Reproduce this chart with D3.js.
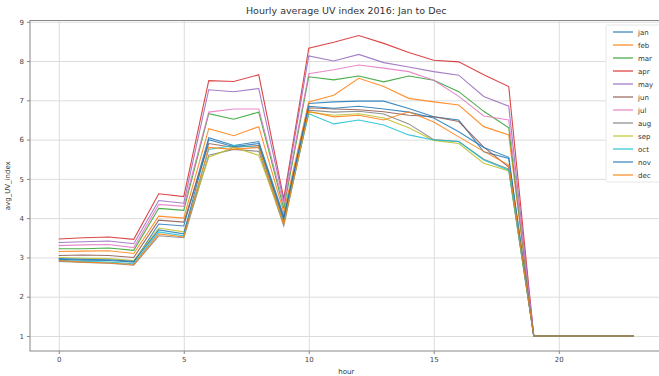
<!DOCTYPE html>
<html>
<head>
<meta charset="utf-8">
<script src="https://d3js.org/d3.v7.min.js"></script>
<style>
  body { margin: 0; background: #fff; }
  text { font-family: "DejaVu Sans", sans-serif; fill: #333; }
</style>
</head>
<body>
<div id="chart"></div>
<script>
// hours 0..23
const hours = d3.range(0, 24);
const months = ['jan', 'feb', 'mar', 'apr', 'may', 'jun', 'jul', 'aug', 'sep', 'oct', 'nov', 'dec'];
const xTicks = [0, 5, 10, 15, 20];
const yTicks = [1, 2, 3, 4, 5, 6, 7, 8, 9];

// avg UV index per hour
const jan = [2.95, 2.93, 2.92, 2.88, 3.85, 3.80, 6.05, 5.85, 5.95, 4.05, 6.92, 6.96, 6.98, 6.98, 6.79, 6.58, 6.50, 5.69, 5.52, 1, 1, 1, 1, 1];
const feb = [3.15, 3.16, 3.17, 3.10, 4.05, 4.00, 6.28, 6.10, 6.33, 4.15, 6.96, 7.13, 7.56, 7.35, 7.05, 6.96, 6.88, 6.33, 6.12, 1, 1, 1, 1, 1];
const mar = [3.22, 3.22, 3.24, 3.18, 4.25, 4.20, 6.66, 6.52, 6.70, 4.25, 7.60, 7.52, 7.62, 7.47, 7.62, 7.51, 7.22, 6.72, 6.30, 1, 1, 1, 1, 1];
const apr = [3.47, 3.50, 3.52, 3.46, 4.62, 4.55, 7.50, 7.48, 7.65, 4.50, 8.33, 8.48, 8.65, 8.45, 8.22, 8.02, 7.98, 7.65, 7.35, 1, 1, 1, 1, 1];
const may = [3.38, 3.40, 3.42, 3.35, 4.45, 4.38, 7.27, 7.22, 7.30, 4.42, 8.13, 8.00, 8.17, 7.96, 7.85, 7.73, 7.64, 7.10, 6.85, 1, 1, 1, 1, 1];
const jun = [3.05, 3.06, 3.05, 3.00, 3.95, 3.90, 5.90, 5.80, 5.85, 3.95, 6.81, 6.78, 6.76, 6.71, 6.62, 6.58, 6.46, 5.81, 5.30, 1, 1, 1, 1, 1];
const jul = [3.30, 3.32, 3.33, 3.25, 4.35, 4.30, 6.70, 6.78, 6.78, 4.35, 7.68, 7.78, 7.90, 7.82, 7.73, 7.51, 7.10, 6.60, 6.50, 1, 1, 1, 1, 1];
const aug = [2.90, 2.87, 2.85, 2.80, 3.55, 3.50, 5.60, 5.75, 5.70, 3.80, 6.75, 6.70, 6.72, 6.65, 6.40, 6.00, 5.95, 5.50, 5.25, 1, 1, 1, 1, 1];
const sep = [3.00, 2.98, 2.97, 2.92, 3.75, 3.65, 5.55, 5.80, 5.60, 3.88, 6.70, 6.62, 6.66, 6.55, 6.30, 5.98, 5.90, 5.40, 5.20, 1, 1, 1, 1, 1];
const oct = [2.93, 2.90, 2.88, 2.84, 3.65, 3.55, 5.75, 5.85, 5.80, 3.90, 6.66, 6.40, 6.50, 6.37, 6.12, 5.99, 5.95, 5.48, 5.22, 1, 1, 1, 1, 1];
const nov = [2.97, 2.95, 2.94, 2.90, 3.70, 3.60, 6.00, 5.82, 5.90, 4.00, 6.85, 6.80, 6.85, 6.78, 6.70, 6.55, 6.20, 5.80, 5.55, 1, 1, 1, 1, 1];
const dec = [2.92, 2.88, 2.86, 2.82, 3.60, 3.52, 5.80, 5.75, 5.80, 3.85, 6.72, 6.58, 6.62, 6.50, 6.71, 6.45, 6.07, 5.70, 5.35, 1, 1, 1, 1, 1];

const seriesValues = [jan, feb, mar, apr, may, jun, jul, aug, sep, oct, nov, dec];
const colors = ['#1f77b4', '#ff7f0e', '#2ca02c', '#d62728', '#9467bd', '#8c564b',
                '#e377c2', '#7f7f7f', '#bcbd22', '#17becf', '#1f77b4', '#ff7f0e'];

const width = 659, height = 376;

const svg = d3.select('#chart')
  .append('svg')
  .attr('width', width)
  .attr('height', height);

// matplotlib style autoscale: 5% margin on data range
const xMin = d3.min(hours), xMax = d3.max(hours);
const xPad = (xMax - xMin) * 0.05;
const allVals = seriesValues.flat();
const yMin = d3.min(allVals), yMax = d3.max(allVals);
const yPad = (yMax - yMin) * 0.05;

const x = d3.scaleLinear()
  .domain([xMin - xPad, xMax + xPad])
  .range([30, 662.5]);

const y = d3.scaleLinear()
  .domain([yMin - yPad, yMax + yPad])
  .range([351, 20.5]);

// grid
svg.append('g')
  .attr('transform', `translate(0,${y.range()[0]})`)
  .call(d3.axisBottom(x).tickValues(xTicks.concat([25])).tickSize(-(y.range()[0] - y.range()[1])).tickFormat(''))
  .call(g => g.select('.domain').remove())
  .call(g => g.selectAll('line').attr('stroke', '#dcdcdc').attr('stroke-width', 1));

svg.append('g')
  .attr('transform', `translate(${x.range()[0]},0)`)
  .call(d3.axisLeft(y).tickValues(yTicks).tickSize(-(x.range()[1] - x.range()[0])).tickFormat(''))
  .call(g => g.select('.domain').remove())
  .call(g => g.selectAll('line').attr('stroke', '#dcdcdc').attr('stroke-width', 1));

// lines
const line = d3.line()
  .x((d, i) => x(hours[i]))
  .y(d => y(d));

svg.append('g')
  .selectAll('path')
  .data(seriesValues)
  .enter()
  .append('path')
  .attr('d', line)
  .attr('fill', 'none')
  .attr('stroke', (d, i) => colors[i])
  .attr('stroke-width', 1.1)
  .attr('opacity', 0.85);

// frame
svg.append('rect')
  .attr('x', x.range()[0])
  .attr('y', y.range()[1])
  .attr('width', x.range()[1] - x.range()[0])
  .attr('height', y.range()[0] - y.range()[1])
  .attr('fill', 'none')
  .attr('stroke', '#888')
  .attr('stroke-width', 1);

// axes
const xAxis = svg.append('g')
  .attr('transform', `translate(0,${y.range()[0]})`)
  .call(d3.axisBottom(x).tickValues(xTicks).tickSize(3).tickPadding(3));
xAxis.select('.domain').remove();
xAxis.selectAll('line').attr('stroke', '#888');
xAxis.selectAll('text').style('font-size', '7px').style('fill', '#444');

const yAxis = svg.append('g')
  .attr('transform', `translate(${x.range()[0]},0)`)
  .call(d3.axisLeft(y).tickValues(yTicks).tickSize(3).tickPadding(3));
yAxis.select('.domain').remove();
yAxis.selectAll('line').attr('stroke', '#888');
yAxis.selectAll('text').style('font-size', '7px').style('fill', '#444');

// title and labels
svg.append('text')
  .attr('x', (x.range()[0] + x.range()[1]) / 2)
  .attr('y', 14)
  .attr('text-anchor', 'middle')
  .style('font-size', '9.5px')
  .text('Hourly average UV index 2016: Jan to Dec');

svg.append('text')
  .attr('x', (x.range()[0] + x.range()[1]) / 2)
  .attr('y', 374)
  .attr('text-anchor', 'middle')
  .style('font-size', '7px')
  .text('hour');

svg.append('text')
  .attr('transform', 'rotate(-90)')
  .attr('x', -(y.range()[0] + y.range()[1]) / 2)
  .attr('y', 10)
  .attr('text-anchor', 'middle')
  .style('font-size', '7px')
  .text('avg_UV_index');

// legend
const legend = svg.append('g')
  .attr('transform', 'translate(606,25)');

legend.append('rect')
  .attr('width', 60)
  .attr('height', 157)
  .attr('rx', 2)
  .attr('fill', '#fff')
  .attr('stroke', '#e6e6e6');

const items = legend.selectAll('g.item')
  .data(months)
  .enter()
  .append('g')
  .attr('class', 'item')
  .attr('transform', (d, i) => `translate(0,${7 + i * 13})`);

items.append('line')
  .attr('x1', 7)
  .attr('x2', 27)
  .attr('stroke', (d, i) => colors[i])
  .attr('stroke-width', 1.1);

items.append('text')
  .attr('x', 32)
  .attr('y', 2.5)
  .style('font-size', '7px')
  .text(d => d);
</script>
</body>
</html>
